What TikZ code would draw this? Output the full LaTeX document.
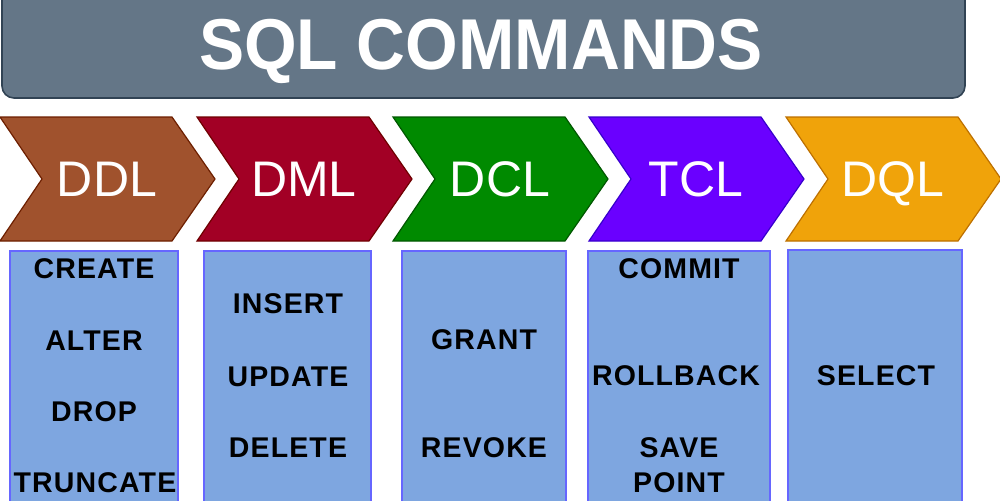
\documentclass[tikz,border=0pt]{standalone}
\usepackage{fontspec}
\setmainfont{Liberation Sans}
\definecolor{titlefill}{HTML}{647687}
\definecolor{titledraw}{HTML}{314354}
\definecolor{ddlfill}{HTML}{A0522D}
\definecolor{ddldraw}{HTML}{6D1F00}
\definecolor{dmlfill}{HTML}{A20025}
\definecolor{dmldraw}{HTML}{6F0000}
\definecolor{dclfill}{HTML}{008A00}
\definecolor{dcldraw}{HTML}{005700}
\definecolor{tclfill}{HTML}{6A00FF}
\definecolor{tcldraw}{HTML}{3700CC}
\definecolor{dqlfill}{HTML}{F0A30A}
\definecolor{dqldraw}{HTML}{BD7000}
\definecolor{boxfill}{HTML}{7EA6E0}
\definecolor{boxdraw}{HTML}{6666FF}
\tikzset{
  titlebar/.style={fill=titlefill, draw=titledraw, line width=0.8pt, rounded corners=6pt},
  titletext/.style={text=white, font=\fontsize{36pt}{40pt}\selectfont\bfseries, xscale=0.94, inner sep=0pt, text height=25.8pt, text depth=0pt},
  chevlabel/.style={text=white, font=\fontsize{25pt}{28pt}\selectfont, inner sep=0pt, text height=17.9pt, text depth=0pt},
  cmdbox/.style={fill=boxfill, draw=boxdraw, line width=0.7pt},
  item/.style={text=black, font=\fontsize{14.25pt}{16pt}\selectfont\bfseries\addfontfeature{LetterSpace=4}, inner sep=0pt, text height=10.2pt, text depth=0pt}
}
\begin{document}
\begin{tikzpicture}[x=0.5pt,y=-0.5pt]
\useasboundingbox (0,0) rectangle (1000,500);
\clip (0,0) rectangle (1000,500);
% title bar
\draw[titlebar] (2,-20) rectangle (965,98);
\node[titletext] (title) at (481,44) {SQL COMMANDS};
% chevrons
\foreach \x/\c/\t/\n in {0/ddl/DDL/ddl, 197/dml/DML/dml, 393/dcl/DCL/dcl, 589/tcl/TCL/tcl, 786/dql/DQL/dql}{
  \draw[fill=\c fill, draw=\c draw, line width=0.6pt, line join=miter]
    (\x,117) -- (\x+172,117) -- (\x+215,179) -- (\x+172,241) -- (\x,241) -- (\x+42,179) -- cycle;
  \node[chevlabel] (\n) at (\x+107,179) {\t};
}
% command boxes
\draw[cmdbox] (10,251) rectangle (178,510);
\draw[cmdbox] (204,251) rectangle (371,510);
\draw[cmdbox] (402,251) rectangle (566,510);
\draw[cmdbox] (588,251) rectangle (770,510);
\draw[cmdbox] (788,250) rectangle (962,510);
% items
\node[item] (create) at (94,268) {CREATE};
\node[item] (alter) at (94,340) {ALTER};
\node[item] (drop) at (94,411) {DROP};
\node[item] (truncate) at (95,482) {TRUNCATE};
\node[item] (insert) at (288,303) {INSERT};
\node[item] (update) at (288,376) {UPDATE};
\node[item] (delete) at (288,447) {DELETE};
\node[item] (grant) at (484,339) {GRANT};
\node[item] (revoke) at (484,447) {REVOKE};
\node[item] (commit) at (679,268) {COMMIT};
\node[item] (rollback) at (676,375) {ROLLBACK};
\node[item] (save) at (679,447) {SAVE};
\node[item] (point) at (679,482) {POINT};
\node[item] (select) at (876,375) {SELECT};
\end{tikzpicture}
\end{document}
